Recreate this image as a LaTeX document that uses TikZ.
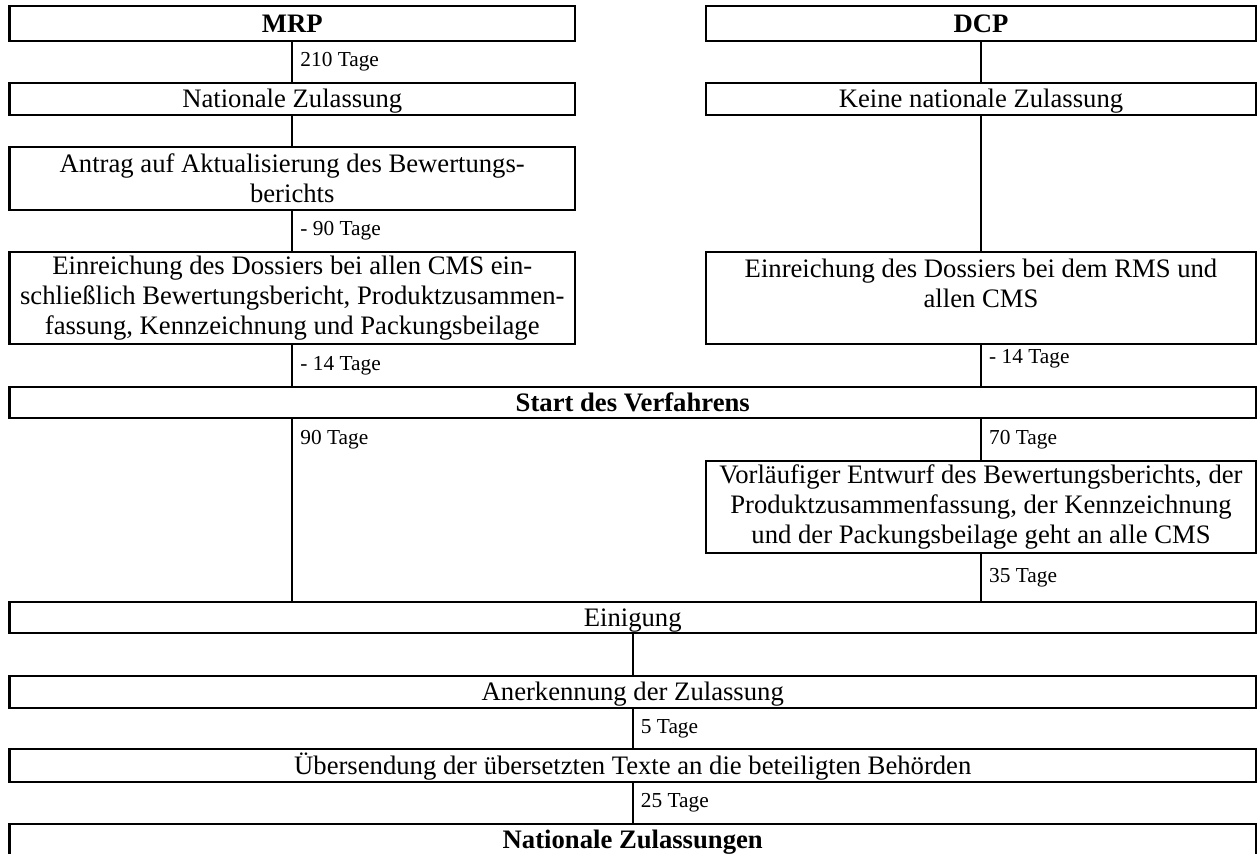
\documentclass[tikz,border=0pt]{standalone}
\usepackage{fontspec}
\setmainfont{Liberation Serif}
\usetikzlibrary{calc}

\begin{document}
\begin{tikzpicture}[x=0.75pt, y=-0.75pt,
	box/.style={draw, line width=2pt, inner sep=0pt, outer sep=0pt, align=center, font=\fontsize{20}{22.3}\selectfont},
	onebox/.style={box, text height=13.2pt, text depth=0pt},
	headbox/.style={onebox, font=\fontsize{20}{22.3}\selectfont\bfseries},
	lcol/.style={minimum width=424.1pt},
	rcol/.style={minimum width=412.5pt},
	wide/.style={minimum width=934.9pt},
	conn/.style={line width=1.3pt},
	tage/.style={anchor=west, inner sep=0pt, xshift=5.5pt, font=\fontsize{16}{18}\selectfont}]
			%%%%% START %%%%%
			
			\useasboundingbox (0,0) rectangle (1258,854);
			
			% MRP
			\node[headbox, lcol, minimum height=26.25pt] (mrp) at (292.25,23.5) {MRP};
			\node[onebox, lcol, minimum height=24pt] (natzul) at (292.25,99) {Nationale Zulassung};
			\node[box, lcol, minimum height=47.25pt] (antrag) at (292.25,178.5) {Antrag auf Aktualisierung des Bewertungs-\\berichts};
			\node[box, lcol, minimum height=69pt] (einmrp) at (292.25,298) {Einreichung des Dossiers bei allen CMS ein-\\schließlich Bewertungsbericht, Produktzusammen-\\fassung, Kennzeichnung und Packungsbeilage};
			
			% DCP
			\node[headbox, rcol, minimum height=26.25pt] (dcp) at (981,23.5) {DCP};
			\node[onebox, rcol, minimum height=24pt] (keinezul) at (981,99) {Keine nationale Zulassung};
			\node[box, rcol, minimum height=69pt] (eindcp) at (981,298) {Einreichung des Dossiers bei dem RMS und\\allen CMS\\\mbox{}};
			
			% gemeinsam
			\node[headbox, wide, minimum height=23.25pt] (start) at (632.75,402.5) {Start des Verfahrens};
			\node[box, rcol, minimum height=69pt] (entwurf) at (981,507) {Vorläufiger Entwurf des Bewertungsberichts, der\\Produktzusammenfassung, der Kennzeichnung\\und der Packungsbeilage geht an alle CMS};
			\node[onebox, wide, minimum height=23.25pt] (einigung) at (632.75,617.5) {Einigung};
			\node[onebox, wide, minimum height=24pt] (anerk) at (632.75,692) {Anerkennung der Zulassung};
			\node[onebox, wide, minimum height=24.75pt] (uebers) at (632.75,765.5) {Übersendung der übersetzten Texte an die beteiligten Behörden};
			\node[headbox, wide, minimum height=24pt] (natzuls) at (632.75,840) {Nationale Zulassungen};
			
			% Fristen
			\draw[conn] (mrp.south) -- node[tage] {210 Tage} (natzul.north);
			\draw[conn] (natzul.south) -- (antrag.north);
			\draw[conn] (antrag.south) -- node[tage] {- 90 Tage} (einmrp.north);
			\draw[conn] (einmrp.south) -- node[tage] {- 14 Tage} (start.north -| einmrp.south);
			\draw[conn] (start.south -| mrp.south) -- node[tage, pos=0.12] {90 Tage} (einigung.north -| mrp.south);
			
			\draw[conn] (dcp.south) -- (keinezul.north);
			\draw[conn] (keinezul.south) -- (eindcp.north);
			\draw[conn] (eindcp.south) -- node[tage, pos=0.35] {- 14 Tage} (start.north -| eindcp.south);
			\draw[conn] (start.south -| entwurf.north) -- node[tage] {70 Tage} (entwurf.north);
			\draw[conn] (entwurf.south) -- node[tage] {35 Tage} (einigung.north -| entwurf.south);
			
			\draw[conn] (einigung.south) -- (anerk.north);
			\draw[conn] (anerk.south) -- node[tage] {5 Tage} (uebers.north);
			\draw[conn] (uebers.south) -- node[tage] {25 Tage} (natzuls.north);
			
			%%%%% END %%%%%
		\end{tikzpicture}
\end{document}
